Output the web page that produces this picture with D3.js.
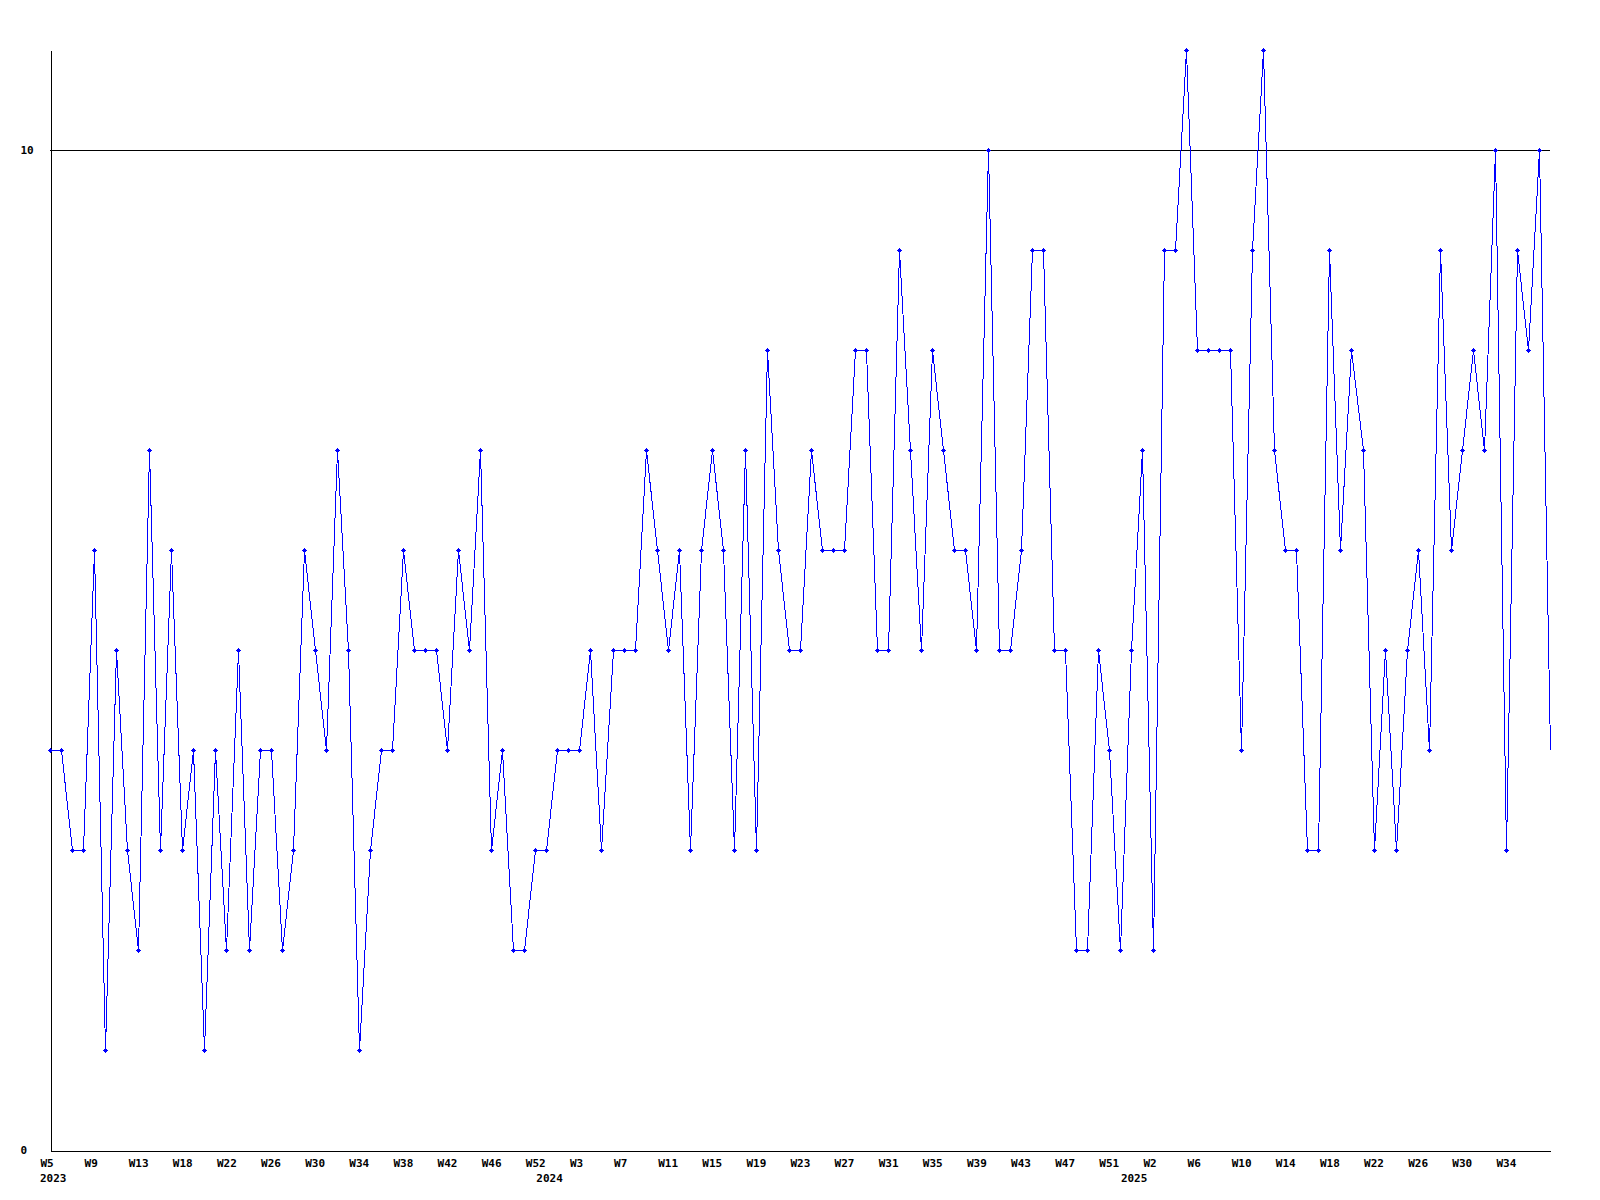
<!DOCTYPE html>
<html>
<head>
<meta charset="utf-8">
<script src="https://cdn.jsdelivr.net/npm/d3@7"></script>
<style>
  html, body { margin: 0; padding: 0; background: #fff; }
  svg { display: block; }
  text { font-family: "DejaVu Sans Mono", "Liberation Mono", monospace; font-weight: bold; font-size: 11px; fill: #000; }
</style>
</head>
<body>
<svg id="chart" width="1600" height="1200"></svg>
<script>
// Weekly values, 2023 W5 onwards
const values = [
  4,4,3,3,6,1,5,3,2,7,3,6,3,4,1,4,2,5,2,4,
  4,2,3,6,5,4,7,5,1,3,4,4,6,5,5,5,4,6,5,7,
  3,4,2,2,3,3,4,4,4,5,3,5,5,5,7,6,5,6,3,6,
  7,6,3,7,3,8,6,5,5,7,6,6,6,8,8,5,5,9,7,5,
  8,7,6,6,5,10,5,5,6,9,9,5,5,2,2,5,4,2,5,7,
  2,9,9,11,8,8,8,8,4,9,11,7,6,6,3,3,9,6,8,7,
  3,5,3,5,6,4,9,6,7,8,7,10,3,9,8,10,4
];
// Week tick labels (one every 4 points)
const weekLabels = ["W5","W9","W13","W18","W22","W26","W30","W34","W38","W42","W46","W52",
  "W3","W7","W11","W15","W19","W23","W27","W31","W35","W39","W43","W47","W51",
  "W2","W6","W10","W14","W18","W22","W26","W30","W34"];
const weekTickIndex = weekLabels.map((_, k) => k * 4);
// Year labels and the point index where each starts
const yearLabels = ["2023","2024","2025"];
const yearIndex = [0, 45, 98];
const yTicks = [0, 10];

const svg = d3.select("#chart");
const N = values.length;
const x = d3.scaleLinear().domain([0, N - 1]).range([50, 1550]);
const y = d3.scaleLinear().domain([0, 11]).range([1150, 50]);

// gridline at 10
svg.append("line")
  .attr("x1", x(0)).attr("x2", x(N - 1))
  .attr("y1", Math.round(y(10)) + 0.5).attr("y2", Math.round(y(10)) + 0.5)
  .attr("stroke", "#000").attr("stroke-width", 1).attr("shape-rendering", "crispEdges");

// Y axis
const yAxis = svg.append("g")
  .attr("transform", "translate(50.5,0)")
  .call(d3.axisLeft(y).tickValues(yTicks).tickFormat(d3.format("d")).tickSize(0).tickSizeOuter(0));
yAxis.select(".domain").attr("stroke", "#000").attr("shape-rendering", "crispEdges");
yAxis.selectAll("text")
  .attr("text-anchor", "start").attr("x", -30).attr("dy", "0.35em")
  .style("font-family", null).style("font-size", null);
yAxis.attr("font-family", null).attr("font-size", null);

// X axis
const xAxis = svg.append("g")
  .attr("transform", "translate(0,1150.5)")
  .call(d3.axisBottom(x).tickValues(weekTickIndex).tickFormat((d, i) => weekLabels[i]).tickSize(0).tickSizeOuter(0));
xAxis.select(".domain").attr("stroke", "#000").attr("shape-rendering", "crispEdges");
xAxis.selectAll("text")
  .attr("text-anchor", "start").attr("x", -10).attr("y", 16).attr("dy", null);
xAxis.attr("font-family", null).attr("font-size", null);

// Year labels
svg.append("g").selectAll("text")
  .data(yearLabels)
  .join("text")
  .attr("x", (d, i) => x(yearIndex[i]) - 10)
  .attr("y", 1182)
  .text(d => d);

// Line
const line = d3.line()
  .x((d, i) => Math.round(x(i)) + 0.5)
  .y(d => Math.round(y(d)) + 0.5);
svg.append("path")
  .datum(values)
  .attr("d", line)
  .attr("fill", "none")
  .attr("stroke", "#0000ff")
  .attr("stroke-width", 1)
  .attr("shape-rendering", "crispEdges");

// Markers (all but the last point)
const marker = "M-2.5,-0.5H2.5V0.5H-2.5Z M-0.5,-2.5H0.5V2.5H-0.5Z M-1.5,-1.5H1.5V1.5H-1.5Z";
svg.append("g").selectAll("path")
  .data(values.slice(0, N - 1))
  .join("path")
  .attr("transform", (d, i) => `translate(${Math.round(x(i)) + 0.5},${Math.round(y(d)) + 0.5})`)
  .attr("d", marker)
  .attr("fill", "#0000ff")
  .attr("shape-rendering", "crispEdges");
</script>
</body>
</html>
